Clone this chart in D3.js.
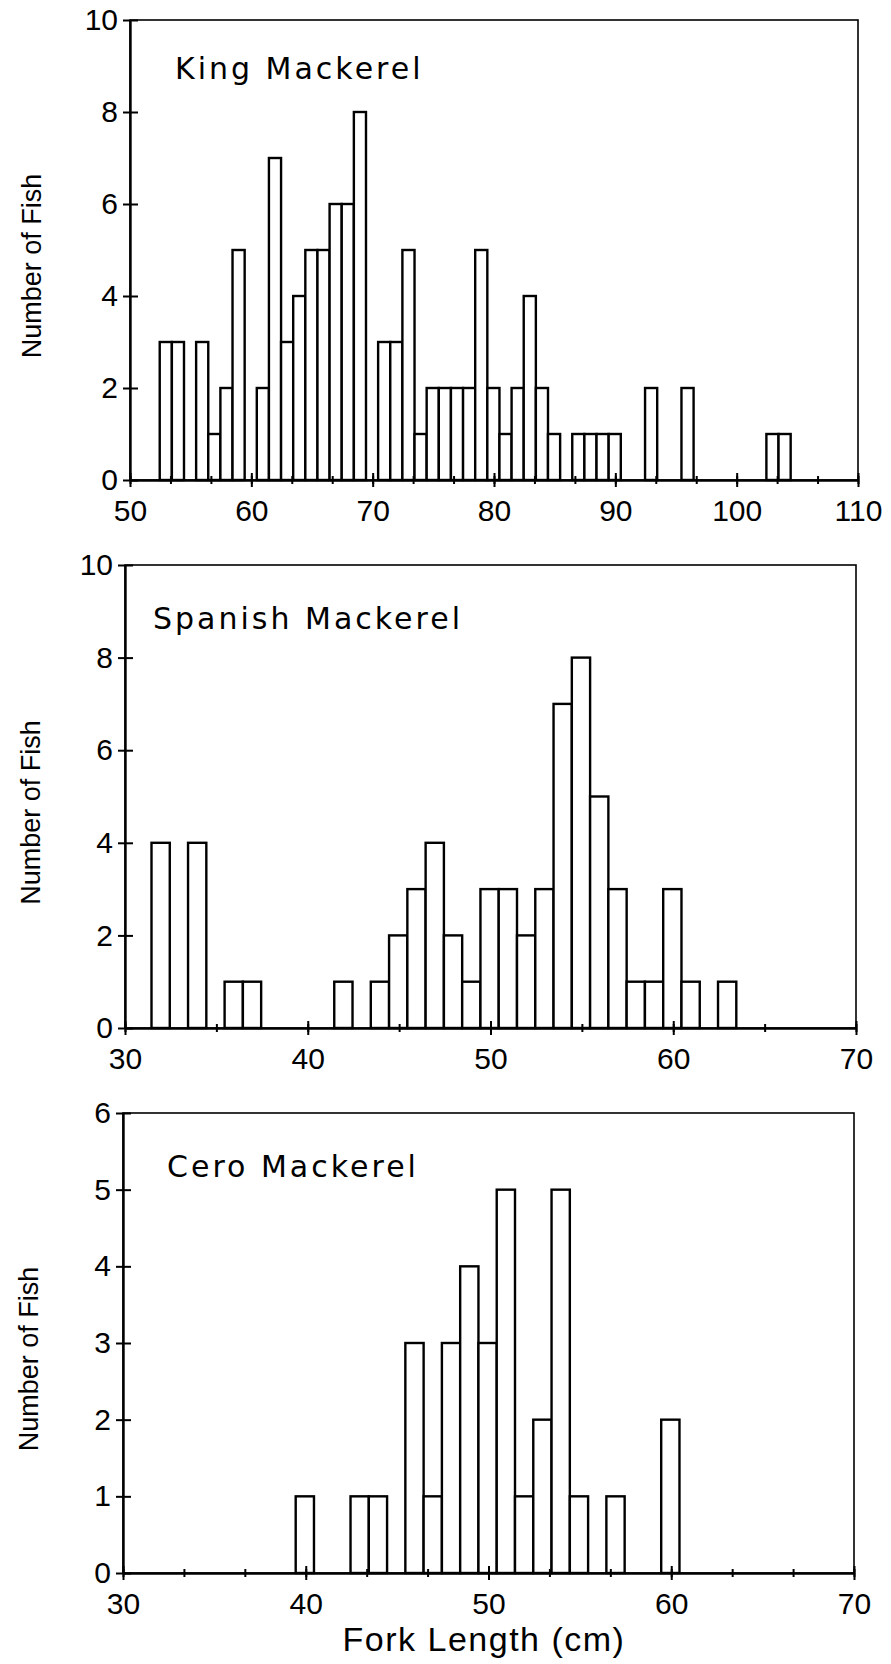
<!DOCTYPE html>
<html>
<head>
<meta charset="utf-8">
<script src="https://cdn.jsdelivr.net/npm/d3@7"></script>
<style>
  body { margin: 0; background: #fff; }
  .tick-label { font-family: "Liberation Sans", Arial, sans-serif; font-size: 30px; fill: #000; }
  .axis-title { font-family: "Liberation Sans", Arial, sans-serif; fill: #000; }
  .panel-title { font-family: "DejaVu Sans", sans-serif; font-size: 30px; letter-spacing: 3px; fill: #000; }
</style>
</head>
<body>
<div id="chart"></div>
<script>
// King mackerel
const kingLengths = [53,54,56,57,58,59,61,62,63,64,65,66,67,68,69,71,72,73,74,75,76,77,78,79,80,81,82,83,84,85,87,88,89,90,93,96,103,104];
const kingCounts  = [3,3,3,1,2,5,2,7,3,4,5,5,6,6,8,3,3,5,1,2,2,2,2,5,2,1,2,4,2,1,1,1,1,1,2,2,1,1];
const kingXTicks = [50,60,70,80,90,100,110];
const kingYTicks = [0,2,4,6,8,10];

// Spanish mackerel
const spanishLengths = [32,34,36,37,42,44,45,46,47,48,49,50,51,52,53,54,55,56,57,58,59,60,61,63];
const spanishCounts  = [4,4,1,1,1,1,2,3,4,2,1,3,3,2,3,7,8,5,3,1,1,3,1,1];
const spanishXTicks = [30,40,50,60,70];
const spanishYTicks = [0,2,4,6,8,10];

// Cero mackerel
const ceroLengths = [40,43,44,46,47,48,49,50,51,52,53,54,55,57,60];
const ceroCounts  = [1,1,1,3,1,3,4,3,5,1,2,5,1,1,2];
const ceroXTicks = [30,40,50,60,70];
const ceroYTicks = [0,1,2,3,4,5,6];

const svg = d3.select("#chart").append("svg")
  .attr("width", 891).attr("height", 1664);

function drawPanel(p) {
  let x = d3.scaleLinear().domain([p.xTicks[0], p.xTicks[p.xTicks.length - 1]]).range([p.left, p.right]);
  let y = d3.scaleLinear().domain([0, p.yTicks[p.yTicks.length - 1]]).range([p.bottom, p.top]);
  let g = svg.append("g");

  let data = p.lengths.map((d, i) => ({x: d, n: p.counts[i]}));

  // frame (top + right are thinner than the axes)
  g.append("rect")
    .attr("x", p.left).attr("y", p.top)
    .attr("width", p.right - p.left).attr("height", p.bottom - p.top)
    .attr("fill", "none").attr("stroke", "#000").attr("stroke-width", 1.6);

  g.selectAll(".bar").data(data).enter().append("rect")
    .attr("class", "bar")
    .attr("x", d => x(d.x - 0.55))
    .attr("y", d => y(d.n))
    .attr("width", d => x(d.x + 0.45) - x(d.x - 0.55))
    .attr("height", d => y(0) - y(d.n))
    .attr("fill", "#fff")
    .attr("stroke", "#000")
    .attr("stroke-width", 2.4);

  // x axis, minor ticks first
  let minor = d3.range(x.domain()[0], x.domain()[1] + 0.01, p.minorStep);
  g.append("g")
    .attr("transform", "translate(0," + p.bottom + ")")
    .call(d3.axisBottom(x).tickValues(minor).tickSize(4).tickFormat(""))
    .call(a => a.select(".domain").remove())
    .call(a => a.selectAll("line").attr("y1", -4).attr("stroke-width", 2));
  let xa = g.append("g")
    .attr("transform", "translate(0," + p.bottom + ")")
    .call(d3.axisBottom(x).tickValues(p.xTicks).tickSize(7).tickSizeOuter(0).tickPadding(13));
  xa.select(".domain").attr("stroke-width", 2.4);
  xa.selectAll("line").attr("y1", -7).attr("stroke-width", 2);
  xa.selectAll("text").attr("class", "tick-label").attr("font-size", null).attr("font-family", null).attr("dy", "0.71em");

  let ya = g.append("g")
    .attr("transform", "translate(" + p.left + ",0)")
    .call(d3.axisLeft(y).tickValues(p.yTicks).tickFormat(d3.format("d")).tickSize(7).tickSizeOuter(0).tickPadding(5));
  ya.select(".domain").attr("stroke-width", 2.4);
  ya.selectAll("line").attr("x1", 8).attr("stroke-width", 2);
  ya.selectAll("text").attr("class", "tick-label").attr("font-size", null).attr("font-family", null);

  g.append("text")
    .attr("class", "axis-title")
    .attr("font-size", 27)
    .attr("text-anchor", "middle")
    .attr("transform", "translate(" + p.yTitleX + "," + ((p.top + p.bottom) / 2 + 16) + ") rotate(-90)")
    .text("Number of Fish");

  g.append("text")
    .attr("class", "panel-title")
    .attr("x", p.titleX).attr("y", p.titleY)
    .text(p.title);
}

drawPanel({title: "King Mackerel", lengths: kingLengths, counts: kingCounts,
  xTicks: kingXTicks, yTicks: kingYTicks, minorStep: 10 / 3,
  left: 130, right: 858, top: 20, bottom: 480, titleX: 175, titleY: 79, yTitleX: 41});

drawPanel({title: "Spanish Mackerel", lengths: spanishLengths, counts: spanishCounts,
  xTicks: spanishXTicks, yTicks: spanishYTicks, minorStep: 5,
  left: 125, right: 856, top: 565, bottom: 1028, titleX: 153, titleY: 629, yTitleX: 40});

drawPanel({title: "Cero Mackerel", lengths: ceroLengths, counts: ceroCounts,
  xTicks: ceroXTicks, yTicks: ceroYTicks, minorStep: 10 / 3,
  left: 123, right: 854, top: 1113, bottom: 1573, titleX: 167, titleY: 1177, yTitleX: 38});

svg.append("text")
  .attr("class", "axis-title")
  .attr("font-size", 34)
  .attr("letter-spacing", 1.5)
  .attr("text-anchor", "middle")
  .attr("x", 484).attr("y", 1651)
  .text("Fork Length (cm)");
</script>
</body>
</html>
